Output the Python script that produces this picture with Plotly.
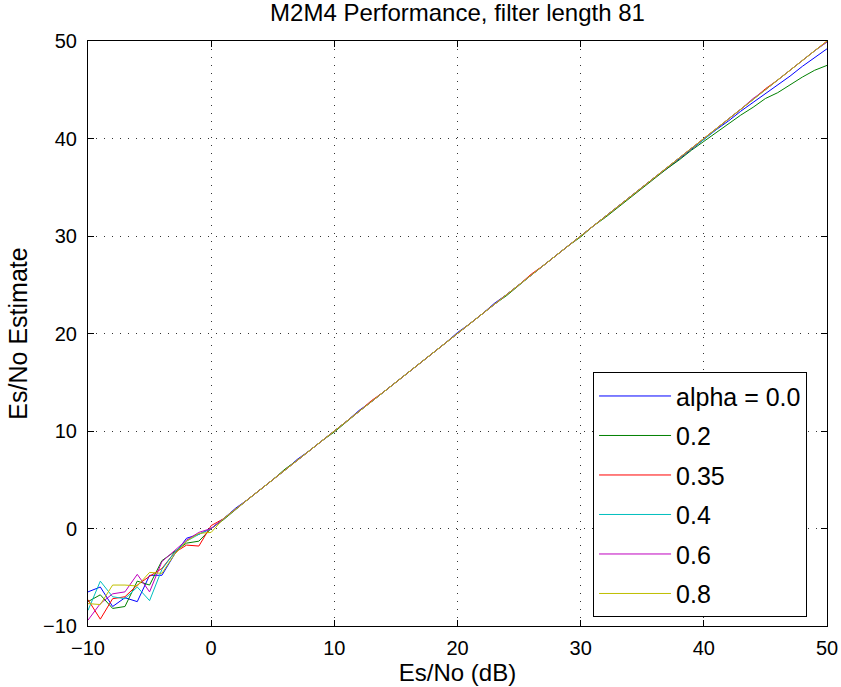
import plotly.graph_objects as go

x_db = list(range(-10, 51))

alpha_0_0 = [-6.5, -6.0, -8.0, -7.1, -7.5, -4.8, -4.8, -2.7, -1.0, -0.6,
             0.0, 1.0, 2.1, 3.0, 4.0, 5.0, 6.0, 7.1, 8.0, 9.0,
             10.0, 11.0, 12.1, 13.0, 14.0, 15.0, 16.0, 17.0, 18.0, 19.0,
             20.1, 21.0, 22.0, 23.1, 24.0, 25.0, 26.0, 27.0, 28.0, 29.0,
             30.0, 31.0, 32.0, 33.0, 34.0, 35.0, 36.0, 36.9, 37.9, 38.9,
             39.9, 40.9, 41.8, 42.8, 43.7, 44.6, 45.5, 46.4, 47.4, 48.3, 49.2]
alpha_0_2 = [-7.5, -6.8, -8.2, -8.0, -5.4, -5.8, -3.3, -2.4, -1.5, -1.3,
             0.0, 0.9, 2.0, 3.0, 4.0, 5.0, 6.1, 7.0, 8.0, 9.0,
             9.9, 11.0, 12.0, 13.0, 14.0, 15.0, 16.0, 17.0, 18.0, 19.0,
             20.0, 21.0, 22.0, 23.0, 23.9, 25.0, 26.0, 27.0, 28.0, 29.0,
             29.9, 31.0, 31.9, 32.9, 33.9, 34.9, 35.9, 36.9, 37.8, 38.8,
             39.7, 40.6, 41.5, 42.4, 43.2, 44.1, 44.7, 45.5, 46.3, 47.0, 47.5]
alpha_0_35 = [-7.3, -9.3, -7.2, -7.0, -5.8, -4.9, -4.1, -2.5, -1.7, -1.8,
              0.3, 1.0, 2.0, 3.0, 4.0, 5.0, 6.0, 7.0, 8.0, 9.0,
              10.0, 11.0, 12.0, 13.1, 14.0, 15.0, 16.0, 17.0, 18.0, 19.0,
              20.0, 21.0, 22.0, 23.0, 24.0, 25.0, 26.1, 27.0, 28.0, 29.0,
              30.0, 31.0, 32.0, 33.0, 34.0, 35.0, 36.0, 37.0, 38.0, 39.0,
              40.0, 41.0, 42.0, 43.0, 44.0, 45.1, 46.0, 47.0, 48.0, 49.0, 50.0]
alpha_0_4 = [-8.4, -5.4, -7.0, -7.2, -6.0, -7.4, -4.2, -2.5, -1.3, -0.6,
             0.0, 1.0, 2.0, 3.0, 4.0, 5.0, 6.0, 7.0, 8.0, 9.0,
             10.0, 11.0, 12.0, 13.0, 14.0, 15.0, 16.0, 17.0, 18.0, 19.0,
             20.0, 21.0, 22.0, 23.0, 24.0, 25.0, 26.0, 27.0, 28.0, 29.0,
             30.0, 31.0, 32.0, 33.0, 34.0, 35.0, 36.0, 37.0, 38.0, 39.0,
             39.9, 41.0, 42.0, 43.0, 44.0, 45.0, 46.0, 47.0, 48.0, 49.0, 49.9]
alpha_0_6 = [-9.4, -7.7, -6.7, -6.5, -4.7, -6.5, -3.4, -2.3, -1.2, -0.4,
             0.0, 1.0, 2.0, 3.0, 4.0, 5.0, 6.0, 7.0, 8.0, 9.0,
             10.0, 11.0, 12.0, 13.0, 14.0, 15.0, 16.0, 17.0, 18.0, 19.0,
             20.0, 21.0, 22.0, 23.0, 24.0, 25.0, 26.0, 27.0, 28.0, 29.0,
             30.0, 31.0, 32.0, 33.0, 34.0, 35.0, 36.0, 37.0, 38.0, 39.0,
             40.0, 41.0, 42.0, 43.0, 44.1, 45.0, 46.0, 47.0, 48.0, 49.0, 49.9]
alpha_0_8 = [-7.7, -7.8, -5.8, -5.8, -5.9, -4.5, -4.6, -2.7, -1.3, -0.5,
             -0.4, 1.0, 2.0, 3.0, 4.0, 5.0, 6.0, 7.0, 8.0, 9.0,
             10.0, 11.0, 12.0, 13.0, 14.0, 15.0, 16.0, 17.0, 18.0, 19.0,
             20.0, 21.0, 22.0, 23.0, 24.0, 25.0, 26.0, 27.0, 28.0, 29.0,
             30.0, 31.0, 32.0, 33.0, 34.0, 35.0, 36.0, 37.0, 38.0, 39.0,
             40.0, 41.0, 42.0, 43.0, 44.0, 45.0, 46.0, 47.0, 48.0, 49.0, 50.0]

series_names = ["alpha = 0.0", "0.2", "0.35", "0.4", "0.6", "0.8"]
series_values = [alpha_0_0, alpha_0_2, alpha_0_35, alpha_0_4, alpha_0_6, alpha_0_8]
series_colors = ["#0000ff", "#008000", "#ff0000", "#00bfbf", "#bf00bf", "#bfbf00"]

tick_vals = [-10, 0, 10, 20, 30, 40, 50]

FONT = "Liberation Sans, Arial, Helvetica, sans-serif"

fig = go.Figure()
for i, (name, vals, col) in enumerate(zip(series_names, series_values, series_colors)):
    fig.add_trace(go.Scatter(x=x_db, y=vals, mode="lines", name=name,
                             legendgroup=f"g{i}",
                             line=dict(color=col, width=1)))

axis_common = dict(
    showline=True, linecolor="black", linewidth=1, mirror="ticks",
    ticks="inside", ticklen=6, tickcolor="black", tickwidth=1,
    showgrid=True, gridcolor="#333333", gridwidth=1, griddash="1px,7px",
    zeroline=False, tickfont=dict(family=FONT, size=20, color="black"),
    tickvals=tick_vals, automargin=False,
)

fig.update_layout(
    width=841, height=687,
    paper_bgcolor="white", plot_bgcolor="white",
    margin=dict(l=88, r=14, t=41, b=61, autoexpand=False),
    title=dict(text="M2M4 Performance, filter length 81", xref="paper", x=0.5,
               xanchor="center", y=0.982, yanchor="middle",
               font=dict(family=FONT, size=24, color="black")),
    xaxis=dict(range=[-10, 50], ticklabelstandoff=4,
               title=dict(text="Es/No (dB)", standoff=0,
                          font=dict(family=FONT, size=24, color="black")),
               **axis_common),
    yaxis=dict(range=[-10, 50], ticklabelstandoff=6,
               title=dict(text="Es/No Estimate", standoff=8,
                          font=dict(family=FONT, size=25, color="black")),
               **axis_common),
    legend=dict(x=0.973, xanchor="right", y=0.015, yanchor="bottom",
                bgcolor="white", bordercolor="black", borderwidth=1,
                font=dict(family=FONT, size=25, color="black"),
                tracegroupgap=4, itemwidth=72),
    showlegend=True,
)

fig.write_html("out.html")
